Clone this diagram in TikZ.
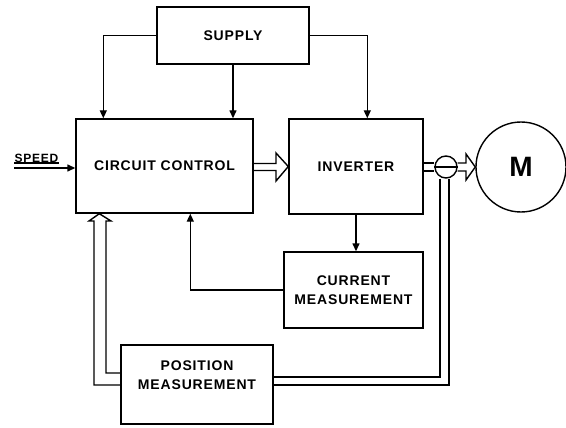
\documentclass[tikz,border=0pt]{standalone}
\usepackage{fontspec}
\setmainfont{Liberation Sans}[LetterSpace=6]
\usetikzlibrary{arrows.meta,calc}
\begin{document}
\begin{tikzpicture}[x=1pt,y=-1pt, line width=1.4pt,
  box/.style={draw, line width=1.4pt, rectangle, inner sep=0pt},
  lbl/.style={font=\fontsize{14}{19}\selectfont\bfseries, align=center, inner sep=0pt},
  arr/.style={line width=1.4pt, -{Triangle[length=8pt,width=7pt]}},
  hollow/.style={line width=1.4pt, line join=miter}]
\useasboundingbox (0,0) rectangle (566,428);
% boxes
\node[box, minimum width=152pt, minimum height=57pt] (supply) at (233,35.5) {};
\node[lbl] at (supply.center) {SUPPLY};
\node[box, minimum width=177pt, minimum height=94pt] (cc) at (164.5,166) {};
\node[lbl] at (cc.center) {CIRCUIT CONTROL};
\node[box, minimum width=134pt, minimum height=95pt] (inv) at (356,166.5) {};
\node[lbl] at (inv.center) {INVERTER};
\node[box, minimum width=139pt, minimum height=76pt] (cur) at (353.5,290) {};
\node[lbl] at (cur.center) {CURRENT\\MEASUREMENT};
\node[box, minimum width=152pt, minimum height=79pt] (pos) at (197,384.5) {};
\node[lbl] at ([yshift=9pt]pos.center) {POSITION\\MEASUREMENT};
\node[draw, circle, line width=1.4pt, minimum size=90pt, inner sep=0pt] (motor) at (521,167) {};
\node[font=\fontsize{28}{30}\selectfont\bfseries, inner sep=0pt] at (motor.center) {M};
% supply connections
\draw[arr] (supply.west) -| ([xshift=28pt]cc.north west);
\draw[arr] (supply.south) -- (supply.south |- cc.north);
\draw[arr] (supply.east) -| ([xshift=79pt]inv.north west);
% speed input
\coordinate (speedin) at (14,168);
\draw[arr] (speedin) -- (speedin -| cc.west);
\node[font=\fontsize{12}{14}\selectfont\bfseries, inner sep=0pt, anchor=south west] (speed) at (14,163) {SPEED};
\draw[line width=1.1pt] (speed.south west) -- (speed.south east);
% cc -> inverter hollow arrow
\draw[hollow] (cc.east |- 0,163.5) -- (276,163.5) -- (276,153) -- (inv.west) -- (276,181) -- (276,170.5) -- (cc.east |- 0,170.5);
% inverter -> current
\draw[arr] (inv.south) -- (inv.south |- cur.north);
% current -> cc
\draw[arr] (cur.west) -| ([xshift=115pt]cc.south west);
% inverter -> motor with sensor
\node[draw, circle, fill=white, line width=1.4pt, minimum size=22pt, inner sep=0pt] (sensor) at (446,167) {};
\draw (inv.east |- 0,163) -- (sensor.west |- 0,163);
\draw (inv.east |- 0,171) -- (sensor.west |- 0,171);
\draw (sensor.west) -- (sensor.east);
\draw[hollow] (sensor.east |- 0,163) -- (466,163) -- (466,154) -- (motor.west) -- (466,180) -- (466,171) -- (sensor.east |- 0,171);
% sensor -> position
\draw (sensor.south -| 440,0) -- (440,377) -- (pos.east |- 0,377);
\draw (sensor.south -| 449,0) -- (449,385) -- (pos.east |- 0,385);
% position -> cc hollow arrow
\coordinate (pin) at ([xshift=24pt]cc.south west);
\draw[hollow] (pos.west |- 0,385) -- (94,385) -- (94,221) -- (89,221) -- (pin) -- (111,221) -- (106,221) -- (106,373) -- (pos.west |- 0,373);
\end{tikzpicture}
\end{document}
